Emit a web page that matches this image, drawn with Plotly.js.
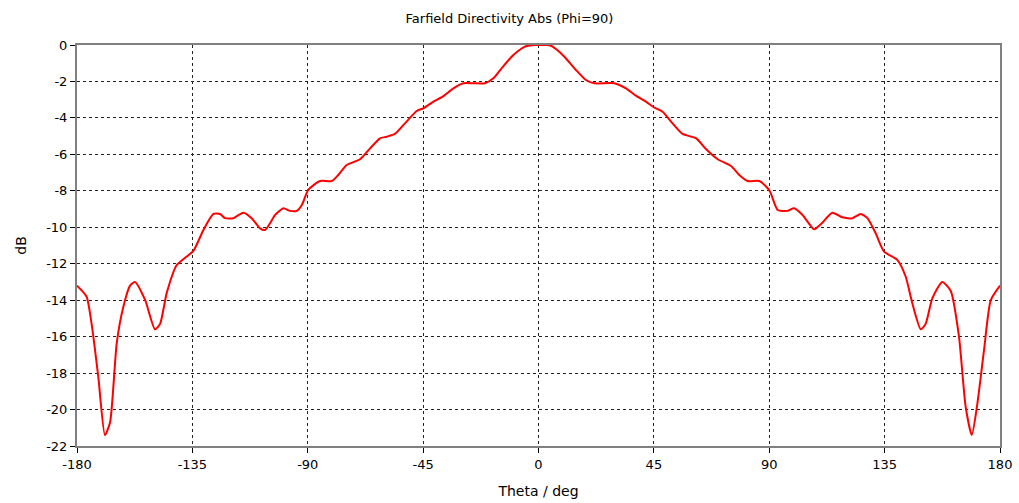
<!DOCTYPE html>
<html>
<head>
<meta charset="utf-8">
<script src="https://cdn.plot.ly/plotly-3.0.1.min.js"></script>
<style>html,body{margin:0;padding:0;background:#fff;}#chart{width:1019px;height:503px;}</style>
</head>
<body>
<div id="chart"></div>
<script>
const theta = [-180,-176.3,-174.3,-171.7,-169.1,-167.1,-164.5,-161.9,-159.3,-157.4,-153.4,-149.6,-147.6,-145,-141.1,-137.8,-134.6,-130.7,-126.8,-124.2,-122.3,-119,-115.1,-111.9,-108.6,-106.7,-104.7,-102.8,-99.5,-96.9,-94.3,-92.3,-89.8,-85.2,-80.6,-78.1,-74.8,-69.6,-65.7,-61.8,-59.2,-56,-52.1,-47.5,-44.9,-41,-37.1,-33.2,-29.3,-25.4,-20.9,-17.6,-14.4,-9.8,-5.3,-2,0,3.5,5.5,10.1,14.6,18.5,21.8,29.6,34.1,38,41.9,45.2,48.4,52.3,56.2,61.5,65.4,69.9,75.1,78.3,81.6,86.1,89.4,90.5,93.3,97.1,99.7,103,107.5,110.1,114.6,118.5,122.4,125.7,128.3,131.5,134.8,140,143.2,145.8,149.1,151,153.6,157.5,160.8,164,166.6,169,171.2,173.8,176.4,180];
const dB = [-13.2,-13.8,-15.3,-18.2,-21.4,-20.7,-16.35,-14.35,-13.2,-13.0,-14.0,-15.6,-15.3,-13.6,-12.07,-11.67,-11.3,-10.15,-9.27,-9.27,-9.5,-9.5,-9.2,-9.5,-10.06,-10.15,-9.78,-9.33,-8.96,-9.1,-9.1,-8.78,-7.95,-7.46,-7.46,-7.13,-6.58,-6.27,-5.67,-5.12,-5.03,-4.88,-4.3,-3.62,-3.47,-3.11,-2.8,-2.38,-2.1,-2.1,-2.1,-1.83,-1.28,-0.55,-0.09,0,0,0,-0.09,-0.64,-1.37,-1.92,-2.1,-2.1,-2.38,-2.78,-3.11,-3.44,-3.66,-4.3,-4.88,-5.12,-5.72,-6.27,-6.64,-7.13,-7.46,-7.46,-7.86,-8.1,-9.05,-9.1,-8.96,-9.33,-10.11,-9.84,-9.2,-9.45,-9.5,-9.27,-9.5,-10.33,-11.34,-11.8,-12.7,-14.17,-15.6,-15.3,-13.9,-13.0,-13.5,-16.0,-19.84,-21.4,-19.65,-16.7,-14.0,-13.2];
const xTicks = [-180,-135,-90,-45,0,45,90,135,180];
const yTicks = [0,-2,-4,-6,-8,-10,-12,-14,-16,-18,-20,-22];

const fontFam = 'Tahoma, "DejaVu Sans", Verdana, sans-serif';
const trace = {
  x: theta, y: dB, type: 'scatter', mode: 'lines',
  line: {color: '#ff0000', width: 2, shape: 'spline', smoothing: 0.6},
  hoverinfo: 'x+y'
};
const axisCommon = {
  showgrid: true, gridcolor: '#222222', griddash: '3px,3px', gridwidth: 1,
  zeroline: false, showline: true, linecolor: '#808080', linewidth: 2, mirror: true,
  ticks: 'outside', ticklen: 5, tickcolor: '#000000', tickwidth: 1,
  tickfont: {family: fontFam, size: 13, color: '#000000'}
};
const layout = {
  width: 1019, height: 503,
  margin: {l: 77, r: 19, t: 45, b: 57},
  paper_bgcolor: '#ffffff', plot_bgcolor: '#ffffff',
  showlegend: false,
  title: {text: 'Farfield Directivity Abs (Phi=90)', x: 0.5, xanchor: 'center', y: 0.963, yanchor: 'middle',
          font: {family: fontFam, size: 13, color: '#000000'}},
  xaxis: Object.assign({}, axisCommon, {
    range: [-180, 180], tickmode: 'array', tickvals: xTicks, ticktext: xTicks.map(String),
    title: {text: 'Theta / deg', font: {family: fontFam, size: 14, color: '#000000'}, standoff: 16}
  }),
  yaxis: Object.assign({}, axisCommon, {
    range: [-22, 0], tickmode: 'array', tickvals: yTicks, ticktext: yTicks.map(String),
    title: {text: 'dB', font: {family: fontFam, size: 14, color: '#000000'}, standoff: 16}
  })
};
Plotly.newPlot('chart', [trace], layout, {displayModeBar: false, staticPlot: true});
</script>
</body>
</html>
